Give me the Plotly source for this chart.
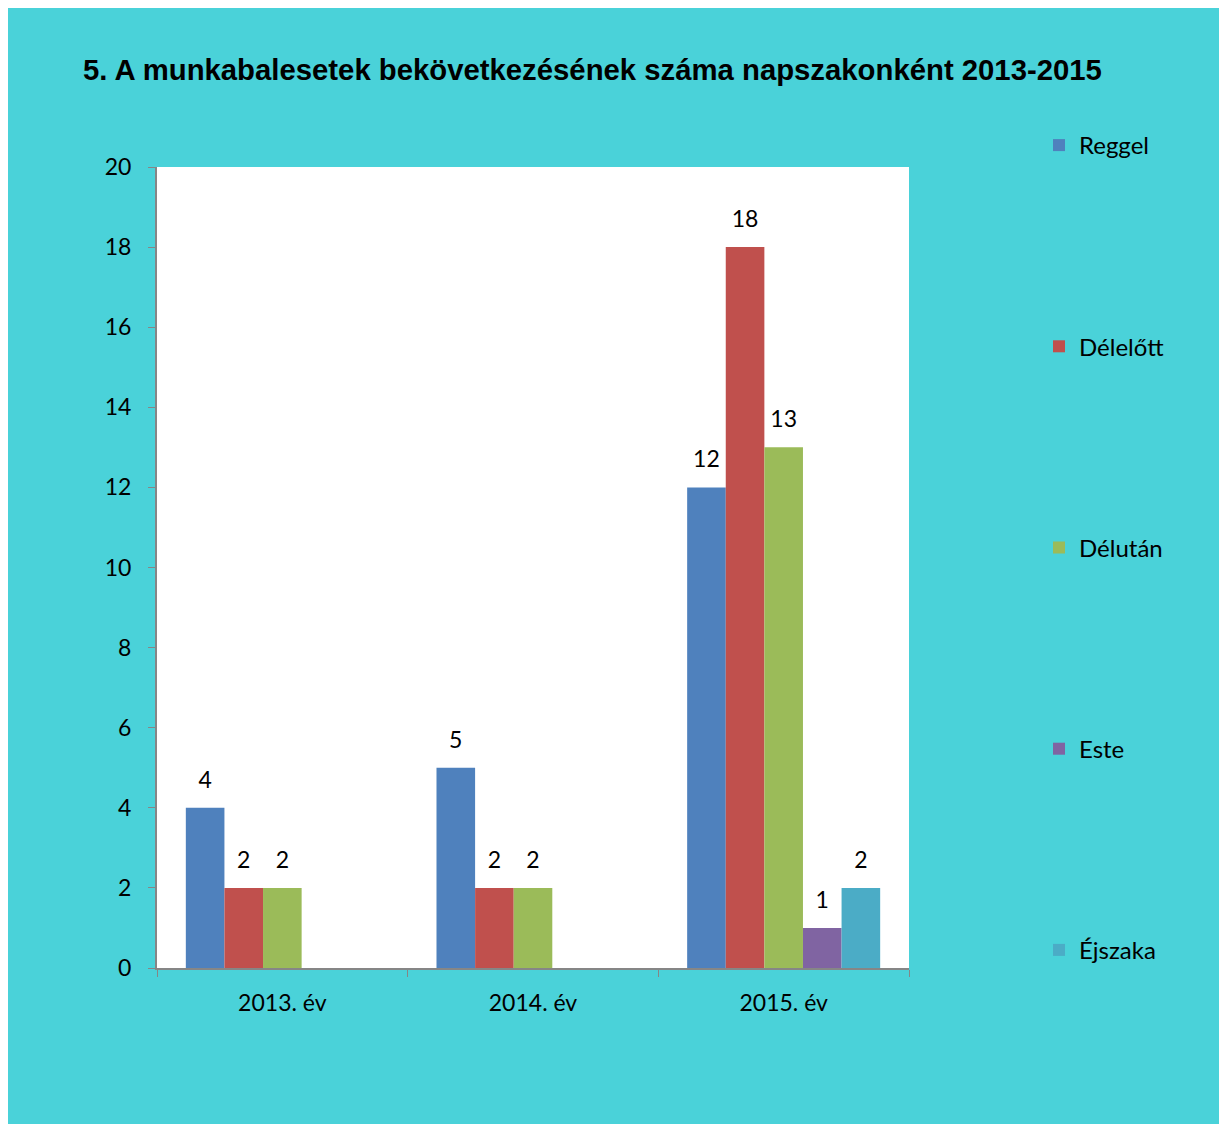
import plotly.graph_objects as go

categories = ["2013. év", "2014. év", "2015. év"]
series_names = ["Reggel", "Délelőtt", "Délután", "Este", "Éjszaka"]
reggel = [4, 5, 12]
delelott = [2, 2, 18]
delutan = [2, 2, 13]
este = [None, None, 1]
ejszaka = [None, None, 2]
series_values = [reggel, delelott, delutan, este, ejszaka]
colors = ["#4F81BD", "#C0504D", "#9BBB59", "#8064A2", "#4BACC6"]
y_ticks = list(range(0, 21, 2))

BG = "#4AD2D9"
FONT = "Lato"
W, H = 1219, 1116
LABEL_GAP = 0.3  # spacing (in axis units) between bar top and its value label

fig = go.Figure()
for name, vals, col in zip(series_names, series_values, colors):
    fig.add_trace(go.Bar(
        x=categories, y=vals, name=name,
        marker=dict(color=col, line=dict(width=0)),
        offsetgroup=name, legendgroup=name,
    ))
    # invisible spacer bar sitting on top of each bar, carrying the value label
    fig.add_trace(go.Bar(
        x=categories,
        y=[None if v is None else LABEL_GAP for v in vals],
        base=vals,
        marker=dict(color="rgba(0,0,0,0)", line=dict(width=0)),
        text=[("" if v is None else str(v)) for v in vals],
        textposition="outside",
        textfont=dict(family=FONT, size=23, color="black"),
        cliponaxis=False, offsetgroup=name, showlegend=False,
        hoverinfo="skip",
    ))

fig.update_layout(
    width=W, height=H,
    paper_bgcolor=BG, plot_bgcolor="white",
    margin=dict(l=149, r=W - 901, t=159, b=H - 960),
    barmode="group", bargap=0.23, bargroupgap=0,
    title=dict(
        text="5. A munkabalesetek bekövetkezésének száma napszakonként 2013-2015",
        font=dict(family="Liberation Sans", size=29.3, color="black", weight="bold"),
        x=75 / W, xanchor="left", xref="container",
        y=1 - 62 / H, yanchor="middle", yref="container",
    ),
    legend=dict(
        xref="container", yref="container",
        x=1031 / W, xanchor="left",
        y=1 - 115 / H, yanchor="top",
        font=dict(family=FONT, size=24, color="black"),
        bgcolor="rgba(0,0,0,0)",
        tracegroupgap=167,
        itemwidth=30,
        maxheight=1000,
    ),
    font=dict(family=FONT, size=23, color="black"),
)
fig.update_yaxes(
    range=[0, 20], tickvals=y_ticks, ticks="outside", ticklen=7,
    tickcolor="#868686", showline=True, linecolor="#868686", linewidth=2,
    showgrid=False, zeroline=False, ticklabelstandoff=12,
    tickfont=dict(family=FONT, size=23, color="black"),
)
fig.update_xaxes(
    ticks="outside", tickson="boundaries", ticklen=7,
    tickcolor="#868686", showline=True, linecolor="#868686", linewidth=2,
    showgrid=False, ticklabelstandoff=13,
    tickfont=dict(family=FONT, size=23, color="black"),
)

fig.write_html(
    "out.html",
    post_script="document.documentElement.style.overflow='hidden';",
)
